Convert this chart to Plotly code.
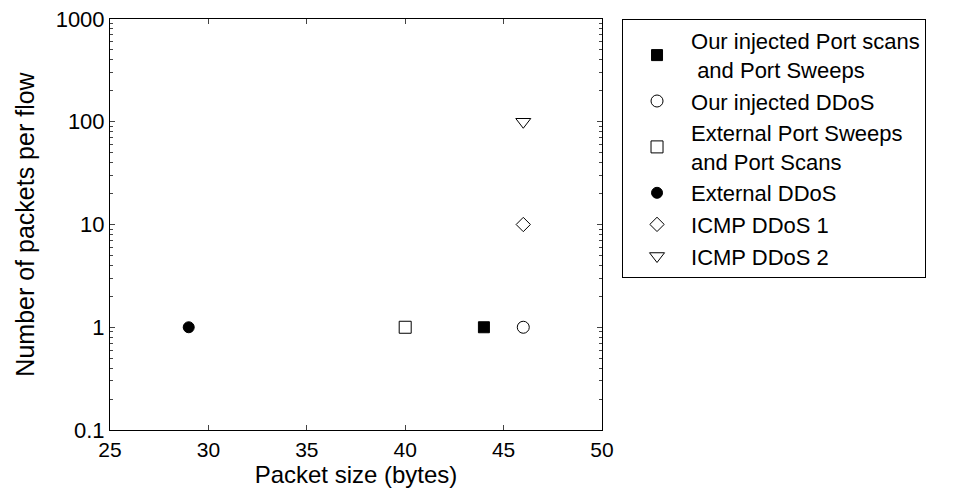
import plotly.graph_objects as go

names = ["Our injected Port scans<br> and Port Sweeps", "Our injected DDoS",
         "External Port Sweeps<br>and Port Scans", "External DDoS",
         "ICMP DDoS 1", "ICMP DDoS 2"]
packet_size = [44, 46, 40, 29, 46, 46]
packets_per_flow = [1, 1, 1, 1, 10, 100]
symbols = ["square", "circle-open", "square-open", "circle", "diamond-open", "triangle-down-open"]
sizes = [11, 12, 12, 11, 11, 13]

y_tickvals = [0.1, 1, 10, 100, 1000]
y_ticktext = ["0.1", "1", "10", "100", "1000"]
x_tickvals = [25, 30, 35, 40, 45, 50]

fig = go.Figure()
for n, x, y, s, sz in zip(names, packet_size, packets_per_flow, symbols, sizes):
    fig.add_trace(go.Scatter(x=[x], y=[y], mode="markers", name=n,
                             marker=dict(symbol=s, size=sz, color="black",
                                         line=dict(color="black", width=1))))

fam = "Liberation Sans, Arial, sans-serif"
font = dict(family=fam, size=22, color="black")
fig.update_layout(
    width=954, height=491,
    margin=dict(l=110, r=352, t=19, b=61, autoexpand=False),
    paper_bgcolor="white", plot_bgcolor="white",
    font=font,
    showlegend=True,
    legend=dict(x=1.0407, y=1, xanchor="left", yanchor="top",
                bordercolor="black", borderwidth=1, bgcolor="white",
                font=font, tracegroupgap=0, itemwidth=58, entrywidth=300),
    xaxis=dict(range=[25, 50], tickvals=x_tickvals, ticks="inside", ticklen=5,
               showline=True, mirror="allticks", linecolor="black", linewidth=1,
               showgrid=False, zeroline=False, ticklabelstandoff=1,
               tickfont=dict(family=fam, size=21, color="black"),
               title=dict(text="Packet size (bytes)", standoff=5,
                          font=dict(family=fam, size=24, color="black"))),
    yaxis=dict(type="log", range=[-1, 3], tickvals=y_tickvals, ticktext=y_ticktext,
               ticks="inside", ticklen=5,
               minor=dict(ticks="inside", ticklen=3, dtick="D1", showgrid=False),
               showline=True, mirror="allticks", linecolor="black", linewidth=1,
               showgrid=False, zeroline=False,
               title=dict(text="Number of packets per flow", standoff=13,
                          font=dict(family=fam, size=25, color="black"))),
)
fig.write_html("out.html")
